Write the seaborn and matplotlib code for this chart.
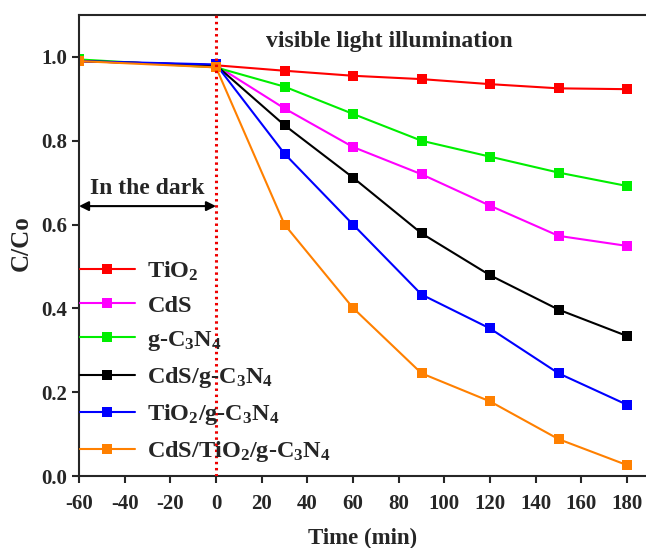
import numpy as np
import pandas as pd
import seaborn as sns
import matplotlib
matplotlib.use("Agg")
import matplotlib.pyplot as plt
from matplotlib.lines import Line2D

time = [-60, 0, 30, 60, 90, 120, 150, 180]
tio2 = [0.990, 0.980, 0.967, 0.955, 0.947, 0.935, 0.925, 0.923]
cds = [0.990, 0.980, 0.877, 0.785, 0.720, 0.645, 0.573, 0.549]
gcn = [0.994, 0.975, 0.929, 0.864, 0.800, 0.762, 0.724, 0.692]
cds_gcn = [0.990, 0.980, 0.837, 0.712, 0.579, 0.479, 0.397, 0.334]
tio2_gcn = [0.990, 0.982, 0.769, 0.600, 0.433, 0.352, 0.245, 0.170]
cds_tio2_gcn = [0.990, 0.975, 0.600, 0.401, 0.245, 0.178, 0.088, 0.026]

labels = [r'TiO$_2$', 'CdS', r'g-C$_3$N$_4$', r'CdS/g-C$_3$N$_4$',
          r'TiO$_2$/g-C$_3$N$_4$', r'CdS/TiO$_2$/g-C$_3$N$_4$']
colors = ['#ff0000', '#ff00ff', '#00ee00', '#000000', '#0000ff', '#ff8000']
series = [tio2, cds, gcn, cds_gcn, tio2_gcn, cds_tio2_gcn]

rows = []
for lab, vals in zip(labels, series):
    for t, v in zip(time, vals):
        rows.append({'Time': t, 'C': v, 'Sample': lab})
df = pd.DataFrame(rows)

sns.set_style("ticks")
plt.rcParams['font.family'] = ['Liberation Serif', 'DejaVu Serif']
plt.rcParams['font.weight'] = 'bold'
plt.rcParams['axes.unicode_minus'] = False
plt.rcParams['mathtext.fontset'] = 'custom'
plt.rcParams['mathtext.rm'] = 'Liberation Serif:bold'
plt.rcParams['mathtext.it'] = 'Liberation Serif:bold'
plt.rcParams['mathtext.bf'] = 'Liberation Serif:bold'
plt.rcParams['mathtext.default'] = 'rm'

W, H = 646, 548
fig = plt.figure(figsize=(W / 100, H / 100), dpi=100)
ax = fig.add_axes([79 / W, (H - 476) / H, (646 - 79) / W, (476 - 15) / H])

sns.lineplot(data=df, x='Time', y='C', hue='Sample', hue_order=labels,
             palette=dict(zip(labels, colors)), marker='s', markersize=6.8,
             markeredgewidth=0, linewidth=1.5, ax=ax, legend=False)

ax.axvline(0, color='#ee0000', linestyle=(0, (0.8, 1.2)), linewidth=2.2, zorder=5)

ax.set_xlim(-60, 188.3)
ax.set_ylim(0, 1.1)
ax.set_xticks(np.arange(-60, 181, 20))
ax.set_yticks(np.arange(0, 1.01, 0.2))
ax.set_yticklabels([f'{v:.1f}' for v in np.arange(0, 1.01, 0.2)])
ax.tick_params(axis='both', labelsize=15, width=1.5, length=5, direction='out')
ax.tick_params(axis='x', pad=8)
for lab in ax.get_xticklabels() + ax.get_yticklabels():
    lab.set_fontweight('bold')
for s in ax.spines.values():
    s.set_linewidth(1.5)
ax.spines['right'].set_visible(False)

ax.set_xlabel('Time (min)', fontsize=16.5, fontweight='bold', labelpad=10)
ax.set_ylabel('C/Co', fontsize=18, fontweight='bold')
ax.yaxis.set_label_coords(-0.082, 0.505)

handles = [Line2D([0], [0], color=c, marker='s', markersize=6.8, markeredgewidth=0, linewidth=1.5)
           for c in colors]
leg = ax.legend(handles, labels, loc='upper left', bbox_to_anchor=(-0.016, 0.491),
                frameon=False, fontsize=17.5, handlelength=2.26, handletextpad=0.53,
                labelspacing=0.5, borderaxespad=0)

ax.annotate('', xy=(-60, 0.644), xytext=(0, 0.644),
            arrowprops=dict(arrowstyle='<|-|>', color='black', lw=1.5,
                            mutation_scale=14, shrinkA=0, shrinkB=0))
ax.text(-30, 0.685, 'In the dark', ha='center', va='center', fontsize=17, fontweight='bold')
ax.text(75.8, 1.036, 'visible light illumination', ha='center', va='center',
        fontsize=17, fontweight='bold')

fig.savefig('out.png', dpi=100)
